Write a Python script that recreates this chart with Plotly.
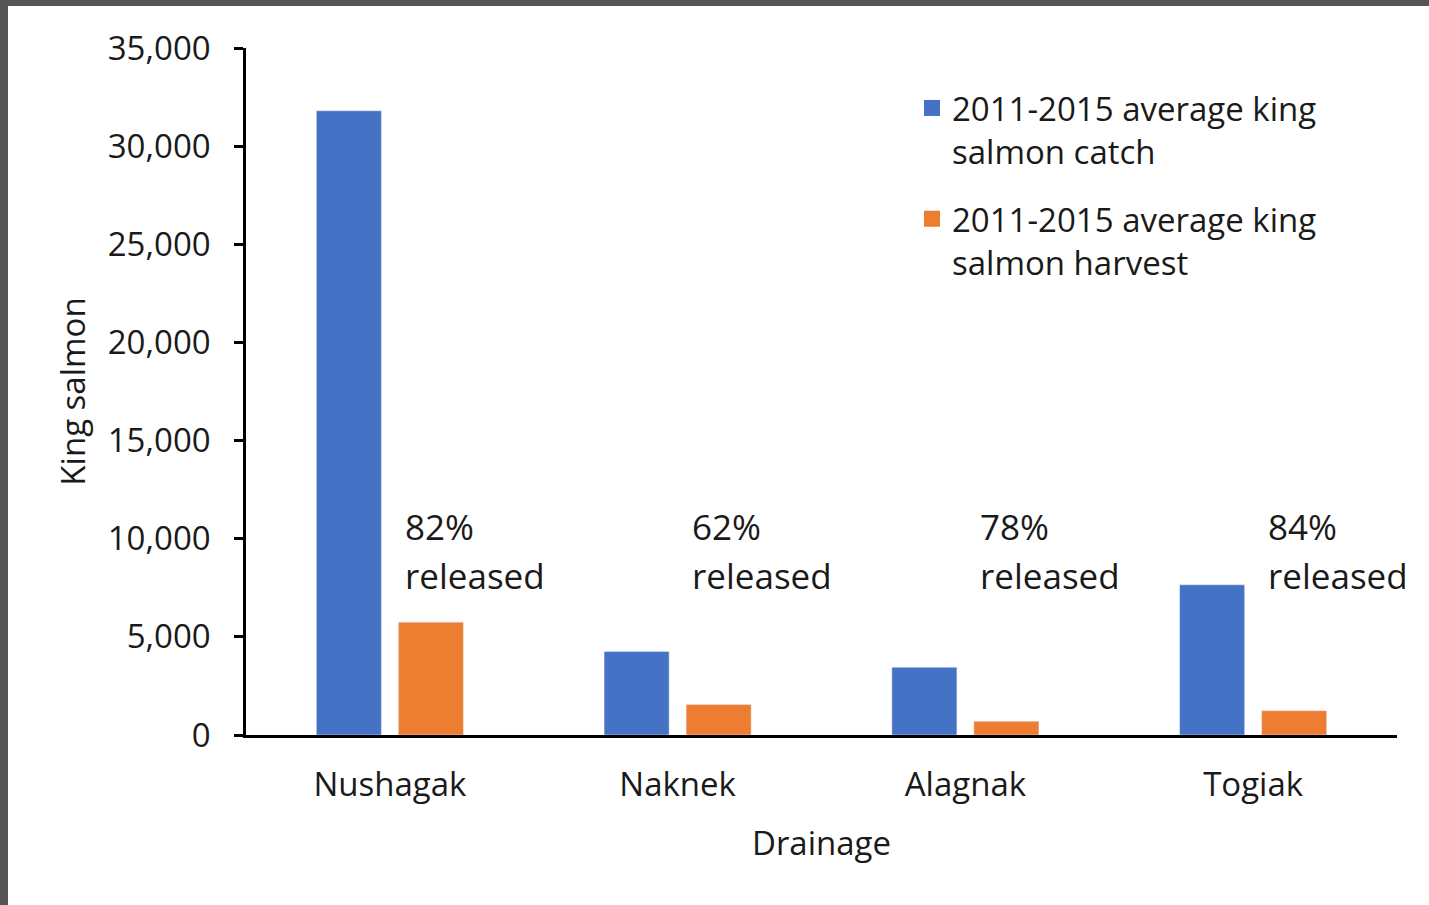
import plotly.graph_objects as go

drainages = ["Nushagak", "Naknek", "Alagnak", "Togiak"]
catch_avg = [31800, 4250, 3450, 7650]
harvest_avg = [5750, 1560, 700, 1240]
released_pct = ["82%", "62%", "78%", "84%"]
released_word = "released"
series_names = ["2011-2015 average king<br>salmon catch",
                "2011-2015 average king<br>salmon harvest"]
y_ticks = [0, 5000, 10000, 15000, 20000, 25000, 30000, 35000]

BLUE = "#4472C4"
ORANGE = "#ED7D31"
TEXT = "#1a1a1a"
FONT = "Open Sans"
FS = 33

W, H = 1429, 905
L, R, T, B = 246, 32, 48, 170
pw, ph = W - L - R, H - T - B

fig = go.Figure()
for vals, color, name, grp in ((catch_avg, BLUE, series_names[0], "a"),
                               (harvest_avg, ORANGE, series_names[1], "b")):
    fig.add_trace(go.Bar(x=drainages, y=vals, name=name, marker_color=color,
                         legendgroup=grp, showlegend=False))
# legend entries with larger square swatches
for color, name, grp in ((BLUE, series_names[0], "a"), (ORANGE, series_names[1], "b")):
    fig.add_trace(go.Scatter(x=[None], y=[None], mode="markers", name=name,
                             legendgroup=grp, showlegend=True,
                             marker=dict(symbol="square", size=20, color=color)))

annotations = []
for i, pct in enumerate(released_pct):
    for txt, yv in ((pct, 10600), (released_word, 8150)):
        annotations.append(dict(x=i + 0.044, y=yv, xref="x", yref="y", text=txt,
                                showarrow=False, xanchor="left", yanchor="middle",
                                font=dict(family=FONT, size=35, color=TEXT)))

def px_x(p):
    return (p - L) / pw

def px_y(p):
    return 1 - (p - T) / ph

shapes = [
    dict(type="rect", xref="paper", yref="paper", x0=px_x(0), x1=px_x(8),
         y0=px_y(H), y1=px_y(0), fillcolor="#555555", line_width=0, layer="above"),
    dict(type="rect", xref="paper", yref="paper", x0=px_x(0), x1=px_x(W),
         y0=px_y(6), y1=px_y(0), fillcolor="#555555", line_width=0, layer="above"),
]

fig.update_layout(
    width=W, height=H,
    margin=dict(l=L, r=R, t=T, b=B, autoexpand=False),
    paper_bgcolor="white", plot_bgcolor="white",
    barmode="group", bargap=0.43, bargroupgap=0.207,
    font=dict(family=FONT, size=FS, color=TEXT),
    showlegend=True,
    legend=dict(x=px_x(912), y=px_y(80), xanchor="left", yanchor="top",
                bgcolor="rgba(0,0,0,0)", font=dict(family=FONT, size=FS, color=TEXT),
                valign="top", tracegroupgap=22, traceorder="grouped"),
    annotations=annotations,
    shapes=shapes,
    xaxis=dict(type="category", range=[-0.5, len(drainages) - 0.5],
               showline=True, linecolor="black", linewidth=2.5, showgrid=False,
               ticks="", ticklabelstandoff=19, automargin=False,
               tickfont=dict(family=FONT, size=FS, color=TEXT),
               title=dict(text="Drainage", standoff=27,
                          font=dict(family=FONT, size=FS, color=TEXT))),
    yaxis=dict(range=[0, 35000], tickvals=y_ticks, tickformat=",",
               showline=True, linecolor="black", linewidth=2.5, showgrid=False,
               zeroline=False, ticks="outside", ticklen=9, tickwidth=2.5,
               tickcolor="black", ticklabelstandoff=17, automargin=False,
               tickfont=dict(family=FONT, size=FS, color=TEXT),
               title=dict(text="King salmon", standoff=13,
                          font=dict(family=FONT, size=FS, color=TEXT))),
)

fig.write_html("out.html", config={"displayModeBar": False},
               post_script="document.body.style.margin='0';document.body.style.padding='0';")
